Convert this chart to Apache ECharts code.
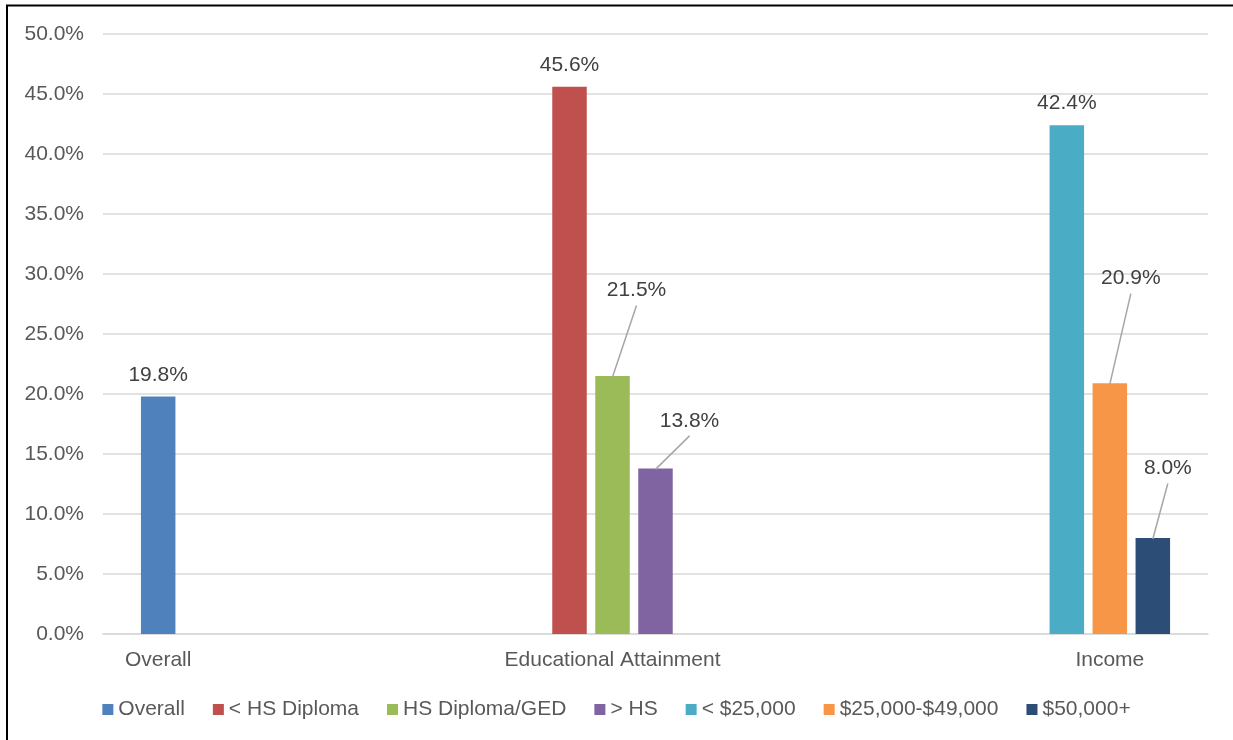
<!DOCTYPE html>
<html>
<head>
<meta charset="utf-8">
<script src="https://cdn.jsdelivr.net/npm/echarts@6/dist/echarts.min.js"></script>
<style>
  html, body { margin: 0; padding: 0; background: #ffffff; }
  #chart { width: 1233px; height: 740px; }
</style>
</head>
<body>
<div id="chart"></div>
<script>
// Groups along the horizontal axis
const groups = ['Overall', 'Educational Attainment', 'Income'];

// One series per subgroup; each belongs to exactly one group
const seriesNames = ['Overall', '< HS Diploma', 'HS Diploma/GED', '> HS', '< $25,000', '$25,000-$49,000', '$50,000+'];
const seriesGroup = [0, 1, 1, 1, 2, 2, 2];
const seriesValues = [19.8, 45.6, 21.5, 13.8, 42.4, 20.9, 8.0];

// Series whose bar carries the group name underneath
const groupLabelSeries = ['Overall', 'HS Diploma/GED', '$25,000-$49,000'];

// Value axis ticks
const yTickLabels = ['0.0%', '5.0%', '10.0%', '15.0%', '20.0%', '25.0%', '30.0%', '35.0%', '40.0%', '45.0%', '50.0%'];

// Styling
const palette = ['#4f81bd', '#c0504d', '#9bbb59', '#8064a2', '#4bacc6', '#f79646', '#2c4d75'];
const FONT = '"Liberation Sans", Arial, sans-serif';
const TEXT_GREY = '#595959';
const LABEL_GREY = '#404040';
const GRID_GREY = '#d9d9d9';
const LEADER_GREY = '#a6a6a6';
const FONT_SIZE = 21;
const BAR_GAP = 0.246;       // gap between neighbouring bars, as a share of bar width
const CAT_GAP = 0.206;       // gap between groups, as a share of the group band
const LABEL_DIST = 11;       // value label distance above its bar

// Value labels nudged away from their bars, joined back with a leader line
const labelNudge = {
  'HS Diploma/GED': [24, -64],
  '> HS': [34, -26],
  '$25,000-$49,000': [21, -83],
  '$50,000+': [15, -48]
};

const yStep = 5;
const yMax = yStep * (yTickLabels.length - 1);

const series = seriesNames.map(function (name, i) {
  const data = groups.map(function (g, gi) {
    return gi === seriesGroup[i] ? seriesValues[i] : null;
  });
  const s = {
    name: name,
    type: 'bar',
    data: data,
    barGap: (BAR_GAP * 100) + '%',
    barCategoryGap: (CAT_GAP * 100) + '%',
    itemStyle: { color: palette[i] },
    label: {
      show: true,
      position: 'top',
      distance: LABEL_DIST,
      fontFamily: FONT,
      fontSize: FONT_SIZE,
      color: LABEL_GREY,
      formatter: function (p) { return p.value.toFixed(1) + '%'; }
    },
    labelLayout: function () {
      const shift = labelNudge[name];
      return shift ? { dx: shift[0], dy: shift[1] } : {};
    }
  };
  if (groupLabelSeries.indexOf(name) >= 0) {
    const gName = groups[seriesGroup[i]];
    s.markPoint = {
      silent: true,
      symbol: 'rect',
      symbolSize: 1,
      itemStyle: { color: 'rgba(0,0,0,0)' },
      label: {
        show: true,
        position: 'bottom',
        distance: 15,
        fontFamily: FONT,
        fontSize: FONT_SIZE,
        color: TEXT_GREY,
        formatter: gName
      },
      data: [{ name: gName, coord: [gName, 0] }]
    };
  }
  return s;
});

// Leader lines from the top of a bar to its nudged value label
const leaderData = seriesNames
  .map(function (name, i) { return labelNudge[name] ? [seriesGroup[i], seriesValues[i], i] : null; })
  .filter(function (d) { return d; });

series.push({
  name: 'leaders',
  type: 'custom',
  silent: true,
  z: 3,
  data: leaderData,
  renderItem: function (params, api) {
    const n = seriesNames.length;
    const band = api.size([1, 0])[0];
    const bw = band * (1 - CAT_GAP) / (n + (n - 1) * BAR_GAP);
    const groupWidth = n * bw + (n - 1) * BAR_GAP * bw;
    const slot = api.value(2);
    const base = api.coord([api.value(0), api.value(1)]);
    const x = base[0] - groupWidth / 2 + slot * bw * (1 + BAR_GAP) + bw / 2;
    const y = base[1];
    const shift = labelNudge[seriesNames[slot]];
    const cx = x + shift[0];
    const cy = y - LABEL_DIST - FONT_SIZE / 2 + shift[1];
    return {
      type: 'line',
      shape: { x1: x, y1: y + 1, x2: cx, y2: cy + 15 },
      style: { stroke: LEADER_GREY, lineWidth: 1.5 }
    };
  }
});

const chart = echarts.init(document.getElementById('chart'), null, { renderer: 'canvas' });
chart.setOption({
  animation: false,
  backgroundColor: '#ffffff',
  textStyle: { fontFamily: FONT },
  graphic: [{
    type: 'rect',
    shape: { x: 7, y: 5.5, width: 1400, height: 900 },
    style: { fill: 'none', stroke: '#000000', lineWidth: 2 },
    silent: true
  }],
  grid: { left: 103, right: 25, top: 34, bottom: 106, containLabel: false },
  legend: {
    data: seriesNames,
    left: 'center',
    top: 699,
    padding: 0,
    icon: 'rect',
    itemWidth: 11,
    itemHeight: 11,
    itemGap: 28,
    textStyle: { fontFamily: FONT, fontSize: FONT_SIZE, color: TEXT_GREY }
  },
  xAxis: {
    type: 'category',
    data: groups,
    axisTick: { show: false },
    axisLabel: { show: false },
    axisLine: { show: true, lineStyle: { color: GRID_GREY, width: 1.5 } }
  },
  yAxis: {
    type: 'value',
    min: 0,
    max: yMax,
    interval: yStep,
    axisLine: { show: false },
    axisTick: { show: false },
    axisLabel: {
      margin: 19,
      fontFamily: FONT,
      fontSize: FONT_SIZE,
      color: TEXT_GREY,
      formatter: function (v) { return yTickLabels[Math.round(v / yStep)]; }
    },
    splitLine: { lineStyle: { color: GRID_GREY, width: 1.5 } }
  },
  series: series
});
</script>
</body>
</html>
